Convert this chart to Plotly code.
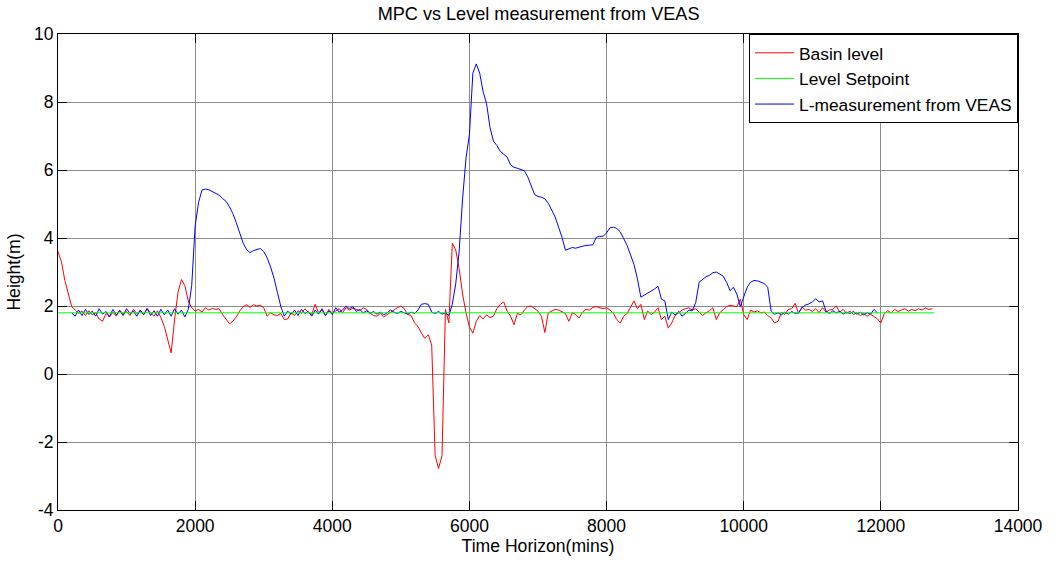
import numpy as np
import plotly.graph_objects as go

# ---------------- data ----------------
step = 50  # minutes between samples

basin_start = 0
basin_level = [
    3.60, 3.30, 2.75, 2.35, 1.98, 1.88, 1.78, 1.85, 1.72, 1.86,
    1.74, 1.80, 1.62, 1.55, 1.78, 1.68, 1.82, 1.70, 1.88, 1.76,
    1.84, 1.72, 1.90, 1.78, 1.85, 1.74, 1.92, 1.80, 1.70, 1.86,
    1.66, 1.40, 1.05, 0.62, 1.60, 2.40, 2.78, 2.60, 2.15, 1.95,
    1.85, 1.90, 1.82, 1.95, 1.88, 1.93, 1.90, 1.92, 1.75, 1.60,
    1.48, 1.55, 1.68, 1.85, 1.98, 2.04, 1.96, 2.04, 2.00, 2.02,
    1.95, 1.70, 1.80, 1.74, 1.72, 1.78, 1.60, 1.62, 1.80, 1.72,
    1.86, 1.78, 1.92, 1.82, 1.75, 2.05, 1.80, 1.88, 1.72, 1.90,
    1.78, 1.85, 1.92, 1.80, 1.95, 1.88, 1.93, 1.90, 1.86, 1.95,
    1.90, 1.80, 1.72, 1.70, 1.78, 1.68, 1.75, 1.82, 1.88, 1.95,
    2.00, 1.92, 1.75, 1.72, 1.50, 1.40, 1.20, 1.05, 1.15, 0.85,
    -2.40, -2.78, -2.40, 1.90, 1.50, 3.85, 3.65, 3.10, 2.35, 1.80,
    1.38, 1.20, 1.55, 1.72, 1.62, 1.74, 1.66, 1.70, 1.92, 2.05,
    2.12, 1.85, 1.70, 1.45, 1.78, 1.74, 1.88, 1.98, 2.00, 1.92,
    1.85, 1.70, 1.22, 1.80, 1.84, 1.90, 1.88, 1.82, 1.78, 1.55,
    1.80, 1.75, 1.65, 1.82, 1.90, 1.88, 1.96, 1.98, 1.94, 1.92,
    1.95, 1.88, 1.78, 1.60, 1.50, 1.70, 1.78, 1.95, 2.15, 1.92,
    2.05, 1.60, 1.85, 1.75, 1.82, 1.95, 1.60, 1.70, 1.35, 1.50,
    1.72, 1.80, 1.88, 1.92, 1.95, 1.88, 1.92, 1.82, 1.72, 1.80,
    1.86, 1.95, 1.60, 1.80, 1.88, 1.98, 2.02, 2.00, 1.98, 2.20,
    1.75, 1.60, 1.88, 1.82, 1.86, 1.80, 1.82, 1.72, 1.65, 1.50,
    1.55, 1.82, 1.75, 1.90, 1.92, 2.08, 1.78, 1.97, 1.88, 1.90,
    1.84, 1.92, 1.80, 1.95, 1.82, 1.88, 1.90, 2.00, 1.82, 1.90,
    1.78, 1.85, 1.75, 1.80, 1.72, 1.78, 1.70, 1.76, 1.68, 1.62,
    1.50, 1.78, 1.86, 1.80, 1.90, 1.84, 1.88, 1.92, 1.85, 1.90,
    1.86, 1.92, 1.88, 1.94, 1.90, 1.92,
]

veas_start = 200
veas_level = [
    1.80, 1.70, 1.88, 1.72, 1.90, 1.75,                              # 200-450
    1.85, 1.70, 1.92, 1.76, 1.84, 1.68, 1.90, 1.74, 1.86, 1.72,      # 500
    1.92, 1.78, 1.85, 1.70, 1.88, 1.75, 1.93, 1.72, 1.86, 1.70,      # 1000
    1.90, 1.74, 1.88, 1.70, 1.92, 1.76, 1.88, 1.68, 1.90, 2.60,      # 1500
    4.35, 5.05, 5.41, 5.44, 5.42, 5.37, 5.30, 5.26, 5.16, 5.08,      # 2000
    4.92, 4.72, 4.45, 4.12, 3.85, 3.66, 3.57, 3.63, 3.67, 3.69,      # 2500
    3.60, 3.42, 3.15, 2.82, 2.40, 1.98, 1.70, 1.85, 1.75, 1.88,      # 3000
    1.72, 1.90, 1.78, 1.84, 1.70, 1.88, 1.76, 1.92, 1.72, 1.86,      # 3500
    1.75, 1.95, 1.82, 1.88, 2.00, 1.92, 1.98, 1.84, 1.90, 1.80,      # 4000
    1.86, 1.78, 1.84, 1.76, 1.82, 1.74, 1.80, 1.88, 1.82, 1.78,      # 4500
    1.84, 1.80, 1.76, 1.82, 1.78, 1.88, 2.05, 2.07, 2.05, 1.82,      # 5000
    1.78, 1.84, 1.76, 1.80, 1.72, 2.05, 2.65, 3.60, 5.15, 6.35,      # 5500
    7.05, 8.85, 9.12, 8.85, 8.30, 7.95, 7.25, 6.85, 6.72, 6.55,      # 6000
    6.45, 6.38, 6.15, 6.08, 6.05, 6.02, 5.98, 5.80, 5.55, 5.28,      # 6500
    5.22, 5.20, 5.15, 5.02, 4.82, 4.62, 4.32, 4.02, 3.64, 3.68,      # 7000
    3.72, 3.70, 3.74, 3.76, 3.78, 3.80, 3.80, 4.02, 4.05, 4.05,      # 7500
    4.15, 4.30, 4.32, 4.28, 4.18, 3.98, 3.78, 3.50, 3.22, 2.80,      # 8000
    2.26, 2.32, 2.38, 2.42, 2.50, 2.58, 2.20, 2.15, 1.60, 1.82,      # 8500
    1.74, 1.84, 1.70, 1.78, 1.88, 1.86, 2.10, 2.70, 2.78, 2.86,      # 9000
    2.90, 2.98, 3.00, 2.94, 2.88, 2.70, 2.45, 2.55, 2.35, 1.98,      # 9500
    2.30, 2.55, 2.70, 2.75, 2.74, 2.70, 2.66, 2.55, 1.85, 1.76,      # 10000
    1.80, 1.74, 1.82, 1.76, 1.84, 1.78, 1.80, 1.95, 2.03, 2.06,      # 10500
    2.12, 2.21, 2.12, 2.15, 1.85, 1.78, 1.86, 1.80, 1.84, 1.76,      # 11000
    1.82, 1.78, 1.84, 1.76, 1.82, 1.74, 1.80, 1.76, 1.90, 1.80,      # 11500
]

setpoint_x = [0, 12775]
setpoint_value = 1.8

x_ticks = [0, 2000, 4000, 6000, 8000, 10000, 12000, 14000]
x_tick_labels = ["0", "2000", "4000", "6000", "8000", "10000", "12000", "14000"]
y_ticks = [-4, -2, 0, 2, 4, 6, 8, 10]
y_tick_labels = ["-4", "-2", "0", "2", "4", "6", "8", "10"]

# ---------------- figure ----------------
basin_t = basin_start + step * np.arange(len(basin_level))
veas_t = veas_start + step * np.arange(len(veas_level))

FONT = "Liberation Sans, Arial, sans-serif"

fig = go.Figure()
fig.add_trace(go.Scatter(x=basin_t, y=basin_level, mode="lines", name="Basin level",
                         line=dict(color="#ff0000", width=1), legendrank=1))
fig.add_trace(go.Scatter(x=veas_t, y=veas_level, mode="lines", name="L-measurement from VEAS",
                         line=dict(color="#0000ff", width=1), legendrank=3))
fig.add_trace(go.Scatter(x=setpoint_x, y=[setpoint_value] * len(setpoint_x), mode="lines",
                         name="Level Setpoint", line=dict(color="#00ff00", width=1), legendrank=2))

axis_common = dict(
    showgrid=True, gridcolor="#8c8c8c", gridwidth=1,
    showline=True, linecolor="black", linewidth=1, mirror="ticks",
    ticks="inside", ticklen=9, tickcolor="black", tickwidth=1,
    zeroline=False, tickmode="array",
    tickfont=dict(family=FONT, size=17.5, color="black"),
)

fig.update_layout(
    width=1055, height=564,
    margin=dict(l=58, r=35, t=34, b=48),
    paper_bgcolor="white", plot_bgcolor="white",
    font=dict(family=FONT, size=17, color="black"),
    title=dict(text="MPC vs Level measurement from VEAS", x=0.5105, xanchor="center",
               y=0.976, yanchor="middle", font=dict(family=FONT, size=18.1, color="black")),
    xaxis=dict(range=[0, 14000], tickvals=x_ticks, ticktext=x_tick_labels,
               title=dict(text="Time Horizon(mins)", standoff=4,
                          font=dict(family=FONT, size=17.6, color="black")),
               **axis_common),
    yaxis=dict(range=[-4, 10], tickvals=y_ticks, ticktext=y_tick_labels,
               title=dict(text="Height(m)", standoff=8,
                          font=dict(family=FONT, size=17.6, color="black")),
               **axis_common),
    legend=dict(x=1, xanchor="right", y=1, yanchor="top", bgcolor="white",
                bordercolor="black", borderwidth=1, itemwidth=39,
                font=dict(family=FONT, size=17.4, color="black"), tracegroupgap=0),
    showlegend=True,
)

fig.write_html("out.html")
